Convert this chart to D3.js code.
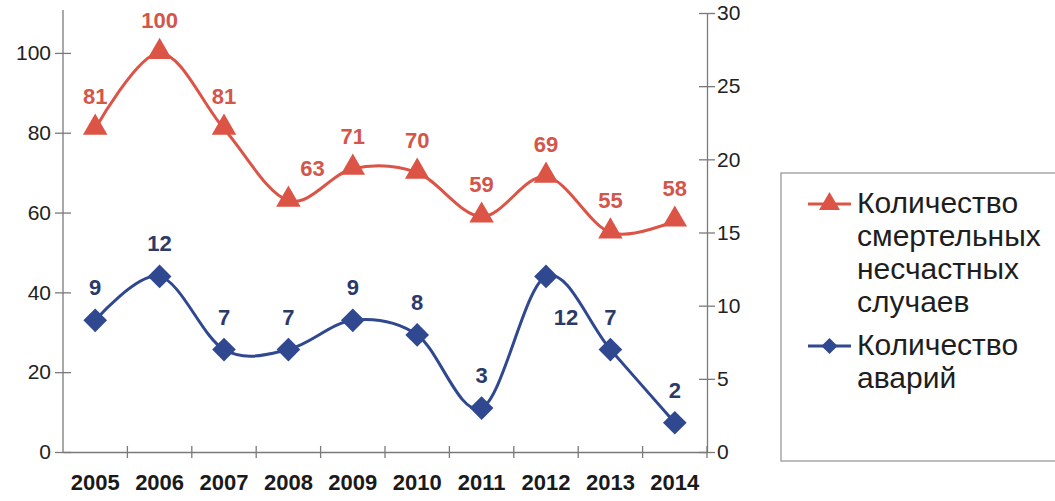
<!DOCTYPE html>
<html>
<head>
<meta charset="utf-8">
<script src="https://cdn.jsdelivr.net/npm/d3@7"></script>
<style>
  body { margin: 0; background: #fff; }
  svg { display: block; font-family: "Liberation Sans", Arial, sans-serif; }
</style>
</head>
<body>
<svg id="chart" width="1055" height="501"></svg>
<script>
const years = ['2005', '2006', '2007', '2008', '2009', '2010', '2011', '2012', '2013', '2014'];
const deaths = [81, 100, 81, 63, 71, 70, 59, 69, 55, 58];
const accidents = [9, 12, 7, 7, 9, 8, 3, 12, 7, 2];
const leftTicks = [0, 20, 40, 60, 80, 100];
const rightTicks = [0, 5, 10, 15, 20, 25, 30];
const deathsName = ['Количество', 'смертельных', 'несчастных', 'случаев'];
const accidentsName = ['Количество', 'аварий'];

const red = '#dc5446', redText = '#d4554a';
const blue = '#2f4890', blueText = '#2c3a6a';
const axisColor = '#7a7a7a';

const svg = d3.select('#chart');
const plotL = 63, plotR = 707, plotT = 13, plotB = 452;

const x = d3.scaleBand().domain(years).range([plotL, plotR]);
const yL = d3.scaleLinear().domain([0, 110]).range([plotB, plotT]);
const yR = d3.scaleLinear().domain([0, 30]).range([plotB, plotT]);

// axes
const axL = svg.append('g').attr('transform', `translate(${plotL},0)`)
  .call(d3.axisLeft(yL).tickValues(leftTicks).tickSize(8).tickSizeOuter(0));
const axR = svg.append('g').attr('transform', `translate(${plotR},0)`)
  .call(d3.axisRight(yR).tickValues(rightTicks).tickSize(8).tickSizeOuter(0));
const axB = svg.append('g').attr('transform', `translate(0,${plotB})`)
  .call(d3.axisBottom(x).tickSize(0).tickSizeOuter(0));

[axL, axR, axB].forEach(a => {
  a.select('.domain').attr('stroke', axisColor).attr('stroke-width', 1.3);
  a.selectAll('.tick line').attr('stroke', axisColor).attr('stroke-width', 1.3);
  a.selectAll('text').attr('fill', '#222').attr('font-size', 21);
});
axL.select('.domain').attr('d', `M0,${plotT - 3}V${plotB}`);
axL.selectAll('.tick line').attr('x1', 8);
axL.selectAll('.tick text').attr('x', -12);
axR.selectAll('.tick line').attr('x1', -8);
axR.selectAll('.tick text').attr('x', 10);
axB.selectAll('.tick text').attr('dy', 0).attr('y', 38)
  .attr('font-weight', 'bold').attr('font-size', 22).attr('fill', '#1a1a1a');
// category boundary ticks on x axis
axB.selectAll('.sep').data(years)
  .enter().append('line').attr('class', 'sep')
  .attr('x1', d => x(d) + x.bandwidth())
  .attr('x2', d => x(d) + x.bandwidth())
  .attr('y1', -6).attr('y2', 6)
  .attr('stroke', axisColor).attr('stroke-width', 1.3);

const cx = d => x(d) + x.bandwidth() / 2;
const curve = d3.curveCardinal.tension(0);

// deaths series (left axis)
const lineL = d3.line().x((d, i) => cx(years[i])).y(d => yL(d)).curve(curve);
svg.append('path').datum(deaths).attr('d', lineL)
  .attr('fill', 'none').attr('stroke', red).attr('stroke-width', 3);
svg.selectAll('.tri').data(deaths).enter().append('path').attr('class', 'tri')
  .attr('d', d3.symbol(d3.symbolTriangle, 260))
  .attr('transform', (d, i) => `translate(${cx(years[i])},${yL(d) - 1})`)
  .attr('fill', red);

// accidents series (right axis)
const lineR = d3.line().x((d, i) => cx(years[i])).y(d => yR(d)).curve(curve);
svg.append('path').datum(accidents).attr('d', lineR)
  .attr('fill', 'none').attr('stroke', blue).attr('stroke-width', 3);
svg.selectAll('.dia').data(accidents).enter().append('path').attr('class', 'dia')
  .attr('d', d3.symbol(d3.symbolSquare, 280))
  .attr('transform', (d, i) => `translate(${cx(years[i])},${yR(d)}) rotate(45)`)
  .attr('fill', blue);

// data labels (a couple shifted as in the original)
const redShift = { 3: [24, 0] };
const blueShift = { 7: [20, 74] };
svg.selectAll('.lblR').data(deaths).enter().append('text').attr('class', 'lblR')
  .attr('x', (d, i) => cx(years[i]) + (redShift[i] ? redShift[i][0] : 0))
  .attr('y', (d, i) => yL(d) - 25 + (redShift[i] ? redShift[i][1] : 0))
  .attr('text-anchor', 'middle').attr('font-size', 22).attr('font-weight', 'bold')
  .attr('fill', redText).text(d => d);
svg.selectAll('.lblB').data(accidents).enter().append('text').attr('class', 'lblB')
  .attr('x', (d, i) => cx(years[i]) + (blueShift[i] ? blueShift[i][0] : 0))
  .attr('y', (d, i) => yR(d) - 25 + (blueShift[i] ? blueShift[i][1] : 0))
  .attr('text-anchor', 'middle').attr('font-size', 22).attr('font-weight', 'bold')
  .attr('fill', blueText).text(d => d);

// legend
const lg = svg.append('g');
lg.append('rect').attr('x', 781).attr('y', 173).attr('width', 300).attr('height', 288)
  .attr('fill', '#fff').attr('stroke', '#9a9a9a').attr('stroke-width', 1.3);

function legendItem(y0, color, sym, rot, lines) {
  lg.append('line').attr('x1', 808).attr('x2', 851).attr('y1', y0).attr('y2', y0)
    .attr('stroke', color).attr('stroke-width', 3);
  lg.append('path').attr('d', sym)
    .attr('transform', `translate(829.5,${y0}) rotate(${rot})`).attr('fill', color);
  lg.append('text').attr('x', 857).attr('y', y0 + 9)
    .attr('font-size', 30).attr('fill', '#1e1e1e')
    .selectAll('tspan').data(lines).enter().append('tspan')
    .attr('x', 857).attr('dy', (d, i) => i ? 33 : 0).text(d => d);
}
legendItem(204, red, d3.symbol(d3.symbolTriangle, 190)(), 0, deathsName);
legendItem(346, blue, d3.symbol(d3.symbolSquare, 130)(), 45, accidentsName);
</script>
</body>
</html>
